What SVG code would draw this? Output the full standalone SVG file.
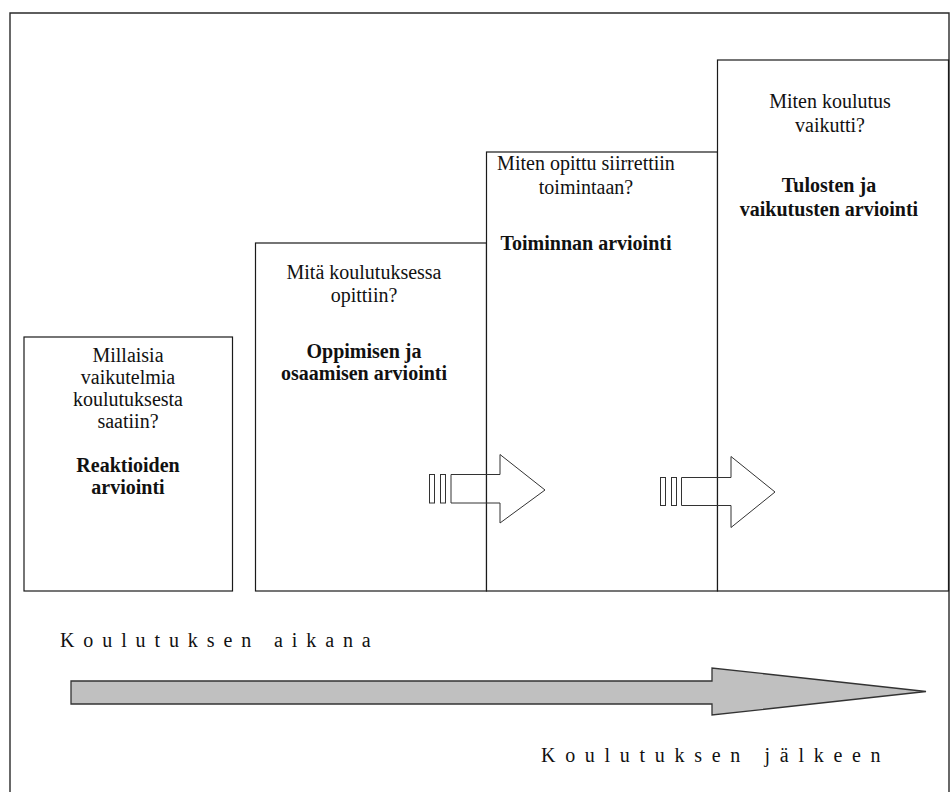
<svg xmlns="http://www.w3.org/2000/svg" width="950" height="792" viewBox="0 0 950 792">
  <style>
    .frame { fill: none; stroke: #2a2a2a; stroke-width: 1.4; }
    .box { fill: #ffffff; stroke: #1a1a1a; stroke-width: 1.2; }
    .txt { font-family: "Liberation Serif", "Times New Roman", serif; font-size: 20px; fill: #111; text-anchor: middle; }
    .bold { font-weight: bold; }
    .spaced { font-family: "Liberation Serif", "Times New Roman", serif; font-size: 20px; fill: #111; }
    .step { fill: none; stroke: #333; stroke-width: 1; }
    .timeline { fill: #c0c0c0; stroke: #333; stroke-width: 1.3; }
  </style>

  <rect width="950" height="792" fill="#ffffff"/>
  <!-- outer frame (open at the bottom) -->
  <path class="frame" d="M10 792 V13 H949 V792"/>

  <!-- level 1 -->
  <g id="reaktiot">
    <rect class="box" x="24" y="337" width="208.5" height="254"/>
    <text class="txt" x="128" y="362">Millaisia</text>
    <text class="txt" x="128" y="384">vaikutelmia</text>
    <text class="txt" x="128" y="406">koulutuksesta</text>
    <text class="txt" x="128" y="428">saatiin?</text>
    <text class="txt bold" x="128" y="472">Reaktioiden</text>
    <text class="txt bold" x="128" y="494">arviointi</text>
  </g>

  <!-- level 2 -->
  <g id="oppiminen">
    <rect class="box" x="255.5" y="243" width="231" height="348"/>
    <text class="txt" x="364" y="279">Mitä koulutuksessa</text>
    <text class="txt" x="364" y="302">opittiin?</text>
    <text class="txt bold" x="364" y="358">Oppimisen ja</text>
    <text class="txt bold" x="364" y="380">osaamisen arviointi</text>
  </g>

  <!-- level 3 -->
  <g id="toiminta">
    <rect class="box" x="486.5" y="152" width="231" height="439"/>
    <text class="txt" x="586" y="170">Miten opittu siirrettiin</text>
    <text class="txt" x="586" y="194">toimintaan?</text>
    <text class="txt bold" x="586" y="250">Toiminnan arviointi</text>
  </g>

  <!-- level 4 -->
  <g id="tulokset">
    <rect class="box" x="717.5" y="60" width="231" height="531"/>
    <text class="txt" x="830" y="108">Miten koulutus</text>
    <text class="txt" x="830" y="132">vaikutti?</text>
    <text class="txt bold" x="829" y="192">Tulosten ja</text>
    <text class="txt bold" x="829" y="216">vaikutusten arviointi</text>
  </g>

  <!-- connectors -->
  <g id="connectors">
    <!-- step arrow 2 -> 3 -->
    <rect class="step" x="429.5" y="474.5" width="5" height="28.5"/>
    <rect class="step" x="440.5" y="474.5" width="5" height="28.5"/>
    <polygon class="step" points="451,474.5 500,474.5 500,454.5 545,490 500,523 500,503 451,503"/>

    <!-- step arrow 3 -> 4 -->
    <rect class="step" x="660.5" y="477.5" width="5" height="28"/>
    <rect class="step" x="671.5" y="477.5" width="5" height="28"/>
    <polygon class="step" points="681.5,477.5 731,477.5 731,456.5 775,492 731,527.5 731,505.5 681.5,505.5"/>

    <!-- timeline arrow -->
    <polygon class="timeline" points="71,681 712,681 712,668 926,691.5 712,715 712,704 71,704"/>
  </g>

  <text class="spaced" x="60" y="647" letter-spacing="8.9">Koulutuksen aikana</text>
  <text class="spaced" x="541" y="762" letter-spacing="9.7">Koulutuksen jälkeen</text>
</svg>
